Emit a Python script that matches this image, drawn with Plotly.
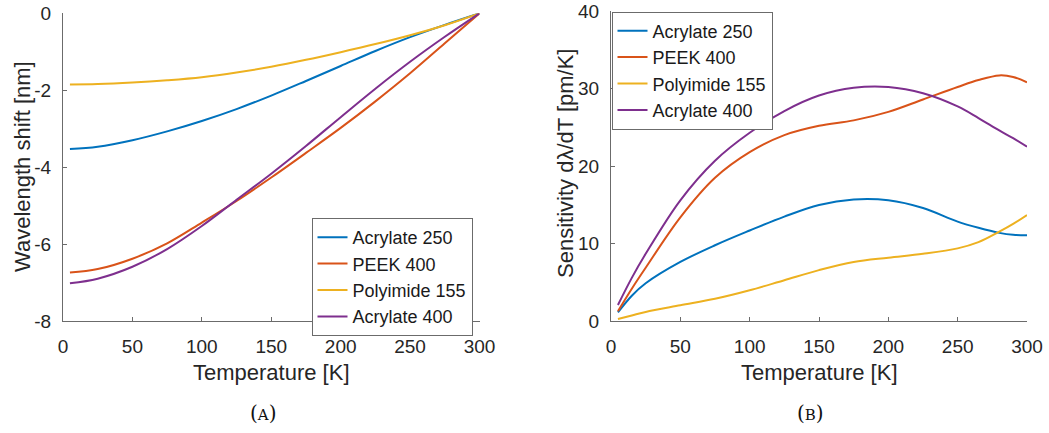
import plotly.graph_objects as go

# Temperature grids [K]
temp_shift = [5, 25, 50, 75, 100, 125, 150, 175, 200, 225, 250, 275, 300]
temp_sens = [5, 15, 25, 50, 75, 100, 125, 150, 175, 200, 225, 250, 265, 280, 290, 300]

series_names = ["Acrylate 250", "PEEK 400", "Polyimide 155", "Acrylate 400"]
series_colors = ["#0072BD", "#D95319", "#EDB120", "#7E2F8E"]

# (A) wavelength shift [nm]
shift_acrylate250 = [-3.53, -3.47, -3.30, -3.07, -2.80, -2.49, -2.14, -1.76, -1.37, -0.98, -0.62, -0.30, 0.0]
shift_peek400 = [-6.74, -6.65, -6.38, -5.98, -5.44, -4.88, -4.27, -3.63, -2.98, -2.29, -1.56, -0.78, 0.0]
shift_polyimide155 = [-1.85, -1.84, -1.80, -1.74, -1.66, -1.54, -1.39, -1.21, -1.01, -0.80, -0.57, -0.31, 0.0]
shift_acrylate400 = [-7.02, -6.90, -6.59, -6.13, -5.53, -4.85, -4.17, -3.45, -2.70, -1.96, -1.26, -0.61, 0.0]

# (B) sensitivity dλ/dT [pm/K]
sens_acrylate250 = [1.15, 3.3, 4.9, 7.65, 9.8, 11.7, 13.5, 15.0, 15.7, 15.6, 14.6, 12.85, 12.05, 11.4, 11.15, 11.1]
sens_peek400 = [1.3, 4.2, 6.9, 13.4, 18.5, 21.8, 24.0, 25.2, 25.9, 27.0, 28.6, 30.2, 31.1, 31.7, 31.5, 30.8]
sens_polyimide155 = [0.3, 0.75, 1.2, 2.06, 2.9, 4.0, 5.3, 6.6, 7.65, 8.2, 8.7, 9.4, 10.2, 11.55, 12.55, 13.7]
sens_acrylate400 = [2.1, 5.6, 8.7, 15.6, 20.7, 24.3, 27.1, 29.1, 30.1, 30.2, 29.4, 27.7, 26.2, 24.6, 23.6, 22.5]

x_ticks = [0, 50, 100, 150, 200, 250, 300]
shift_ticks = [0, -2, -4, -6, -8]
shift_tick_labels = ["0", "-2", "-4", "-6", "-8"]
sens_ticks = [0, 10, 20, 30, 40]

shift_series = [shift_acrylate250, shift_peek400, shift_polyimide155, shift_acrylate400]
sens_series = [sens_acrylate250, sens_peek400, sens_polyimide155, sens_acrylate400]

FONT = "Liberation Sans, Arial, sans-serif"
TEXT = "#262626"
AXIS = "#6b6b6b"

fig = go.Figure()

for name, color, ys in zip(series_names, series_colors, shift_series):
    fig.add_trace(go.Scatter(
        x=temp_shift, y=ys, name=name, mode="lines",
        line=dict(color=color, width=2, shape="spline", smoothing=1),
        xaxis="x", yaxis="y", legend="legend",
    ))

for name, color, ys in zip(series_names, series_colors, sens_series):
    fig.add_trace(go.Scatter(
        x=temp_sens, y=ys, name=name, mode="lines",
        line=dict(color=color, width=2, shape="spline", smoothing=1),
        xaxis="x2", yaxis="y2", legend="legend2",
    ))

W, H = 1049, 433


def axis_common():
    return dict(
        showline=True, linecolor=AXIS, linewidth=1, mirror=False,
        showgrid=False, zeroline=False, automargin=False,
        ticks="inside", ticklen=4, tickcolor=AXIS, tickwidth=1,
        tickfont=dict(family=FONT, size=19, color=TEXT),
    )


fig.update_layout(
    width=W, height=H,
    margin=dict(l=0, r=0, t=0, b=0),
    paper_bgcolor="white", plot_bgcolor="white",
    font=dict(family=FONT, color=TEXT),
    xaxis=dict(domain=[63 / W, 479.5 / W], range=[0, 300], tickvals=x_ticks,
               anchor="y", ticklabelstandoff=8, **axis_common()),
    yaxis=dict(domain=[1 - 321 / H, 1 - 13.3 / H], range=[-8, 0], tickvals=shift_ticks,
               ticktext=shift_tick_labels, anchor="x", ticklabelstandoff=7, **axis_common()),
    xaxis2=dict(domain=[611 / W, 1027 / W], range=[0, 300], tickvals=x_ticks,
                anchor="y2", ticklabelstandoff=8, **axis_common()),
    yaxis2=dict(domain=[1 - 321.3 / H, 1 - 11 / H], range=[0, 40], tickvals=sens_ticks,
                anchor="x2", ticklabelstandoff=7, **axis_common()),
    legend=dict(x=311.5 / W, y=1 - 218 / H, xanchor="left", yanchor="top",
                bgcolor="white", bordercolor=AXIS, borderwidth=1,
                font=dict(family=FONT, size=18, color="#1a1a1a"),
                tracegroupgap=0, itemwidth=30),
    legend2=dict(x=611.5 / W, y=1 - 11.5 / H, xanchor="left", yanchor="top",
                 bgcolor="white", bordercolor=AXIS, borderwidth=1,
                 font=dict(family=FONT, size=18, color="#1a1a1a"),
                 tracegroupgap=0, itemwidth=30),
    showlegend=True,
)

title_font = dict(family=FONT, size=22, color=TEXT)
annotations = [
    dict(text="Temperature [K]", x=271 / W, y=1 - 372 / H, xref="paper", yref="paper",
         xanchor="center", yanchor="middle", showarrow=False, font=title_font),
    dict(text="Temperature [K]", x=819 / W, y=1 - 372 / H, xref="paper", yref="paper",
         xanchor="center", yanchor="middle", showarrow=False, font=title_font),
    dict(text="Wavelength shift [nm]", x=22 / W, y=1 - 167 / H, xref="paper", yref="paper",
         xanchor="center", yanchor="middle", textangle=-90, showarrow=False, font=title_font),
    dict(text="Sensitivity dλ/dT [pm/K]", x=565 / W, y=1 - 164 / H, xref="paper", yref="paper",
         xanchor="center", yanchor="middle", textangle=-90, showarrow=False, font=title_font),
    dict(text="(<span style='font-size:15px'>A</span>)", x=263 / W, y=1 - 413 / H,
         xref="paper", yref="paper", xanchor="center", yanchor="middle", showarrow=False,
         font=dict(family="DejaVu Serif, Liberation Serif, serif", size=20, color="#111")),
    dict(text="(<span style='font-size:15px'>B</span>)", x=811 / W, y=1 - 413 / H,
         xref="paper", yref="paper", xanchor="center", yanchor="middle", showarrow=False,
         font=dict(family="DejaVu Serif, Liberation Serif, serif", size=20, color="#111")),
]
fig.update_layout(annotations=annotations)

fig.write_html("out.html")
